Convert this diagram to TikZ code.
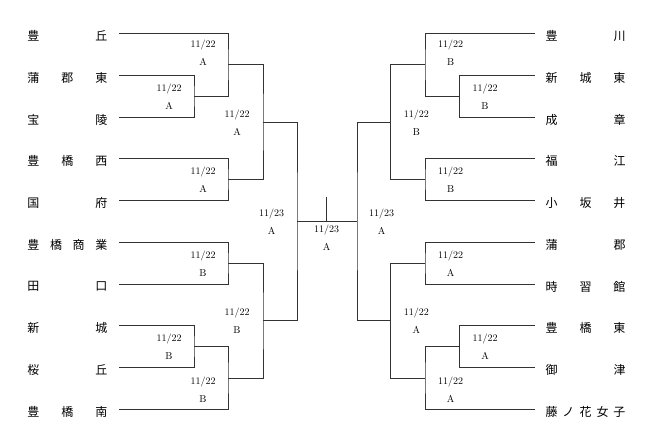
\documentclass[tikz,border=0pt]{standalone}
\usepackage{fontspec}
\newfontfamily\jp{Noto Sans CJK JP}
\usetikzlibrary{calc}

\begin{document}
\begin{tikzpicture}[
  x=1pt, y=-1pt,
  team/.style={font=\jp\fontsize{12}{12}\selectfont, text width=80pt, inner sep=0pt},
  game/.style={font=\fontsize{10}{18}\selectfont, align=center, inner sep=0pt},
  bracket/.style={draw=black!80, line width=0.7pt},
]
\useasboundingbox (0,0) rectangle (654,443);

% Left teams
\foreach \t [count=\i] in {{豊\hfill 丘}, {蒲\hfill 郡\hfill 東}, {宝\hfill 陵},
    {豊\hfill 橋\hfill 西}, {国\hfill 府}, {豊\hfill 橋\hfill 商\hfill 業},
    {田\hfill 口}, {新\hfill 城}, {桜\hfill 丘}, {豊\hfill 橋\hfill 南}} {
  \node[team] (L\i) at (67.4, {36+41.76*(\i-1)}) {\t};
  \coordinate (a\i) at (119, {33.5+41.76*(\i-1)});
}

% Right teams
\foreach \t [count=\i] in {{豊\hfill 川}, {新\hfill 城\hfill 東}, {成\hfill 章},
    {福\hfill 江}, {小\hfill 坂\hfill 井}, {蒲\hfill 郡},
    {時\hfill 習\hfill 館}, {豊\hfill 橋\hfill 東}, {御\hfill 津},
    {藤\hfill ノ\hfill 花\hfill 女\hfill 子}} {
  \node[team] (R\i) at (585.5, {36+41.76*(\i-1)}) {\t};
  \coordinate (b\i) at (534.5, {33.5+41.76*(\i-1)});
}

% Left junctions
\coordinate (mL1) at (194, 96.1);
\coordinate (mL2) at (228, 64.8);
\coordinate (mL3) at (228, 179.7);
\coordinate (mL4) at (263, 122.2);
\coordinate (mL5) at (228, 263.2);
\coordinate (mL6) at (194, 346.7);
\coordinate (mL7) at (228, 378.0);
\coordinate (mL8) at (263, 320.6);
\coordinate (sL) at (297, 221.4);

% Right junctions
\coordinate (mR1) at (459.7, 96.1);
\coordinate (mR2) at (425, 64.8);
\coordinate (mR3) at (425, 179.7);
\coordinate (mR4) at (390.7, 122.2);
\coordinate (mR5) at (425, 263.2);
\coordinate (mR6) at (459.7, 346.7);
\coordinate (mR7) at (425, 378.0);
\coordinate (mR8) at (390.7, 320.6);
\coordinate (sR) at (357, 221.4);

% Left bracket
\draw[bracket] (a2) -| (mL1) |- (a3);
\draw[bracket] (a1) -| (mL2) |- (mL1);
\draw[bracket] (a4) -| (mL3) |- (a5);
\draw[bracket] (mL2) -| (mL4) |- (mL3);
\draw[bracket] (a6) -| (mL5) |- (a7);
\draw[bracket] (a8) -| (mL6) |- (a9);
\draw[bracket] (mL6) -| (mL7) |- (a10);
\draw[bracket] (mL5) -| (mL8) |- (mL7);
\draw[bracket] (mL4) -| (sL) |- (mL8);

% Right bracket
\draw[bracket] (b2) -| (mR1) |- (b3);
\draw[bracket] (b1) -| (mR2) |- (mR1);
\draw[bracket] (b4) -| (mR3) |- (b5);
\draw[bracket] (mR2) -| (mR4) |- (mR3);
\draw[bracket] (b6) -| (mR5) |- (b7);
\draw[bracket] (b8) -| (mR6) |- (b9);
\draw[bracket] (mR6) -| (mR7) |- (b10);
\draw[bracket] (mR5) -| (mR8) |- (mR7);
\draw[bracket] (mR4) -| (sR) |- (mR8);

% Final
\coordinate (fin) at (326.5, 221.4);
\coordinate (fintop) at (326.5, 196.7);
\draw[bracket] (sL) -- (sR);
\draw[bracket] (fin) -- (fintop);

% Game dates and courts
\node[game] (gL1) at (203, 53.2) {11/22\\A};
\node[game] (gL2) at (169, 96.5) {11/22\\A};
\node[game] (gL3) at (237, 122.7) {11/22\\A};
\node[game] (gL4) at (203, 180) {11/22\\A};
\node[game] (gL5) at (203, 263.3) {11/22\\B};
\node[game] (gL6) at (169, 346.7) {11/22\\B};
\node[game] (gL7) at (203, 389.3) {11/22\\B};
\node[game] (gL8) at (237, 320.5) {11/22\\B};
\node[game] (gSL) at (271.7, 221.7) {11/23\\A};

\node[game] (gR1) at (450.7, 53.2) {11/22\\B};
\node[game] (gR2) at (485, 96.5) {11/22\\B};
\node[game] (gR3) at (416.3, 122.7) {11/22\\B};
\node[game] (gR4) at (450.7, 180) {11/22\\B};
\node[game] (gR5) at (450.7, 263.3) {11/22\\A};
\node[game] (gR6) at (485, 346.7) {11/22\\A};
\node[game] (gR7) at (450.7, 389.3) {11/22\\A};
\node[game] (gR8) at (416.3, 320.5) {11/22\\A};
\node[game] (gSR) at (381.7, 221.7) {11/23\\A};

\node[game] (gF) at (326.5, 237.7) {11/23\\A};
\end{tikzpicture}
\end{document}
